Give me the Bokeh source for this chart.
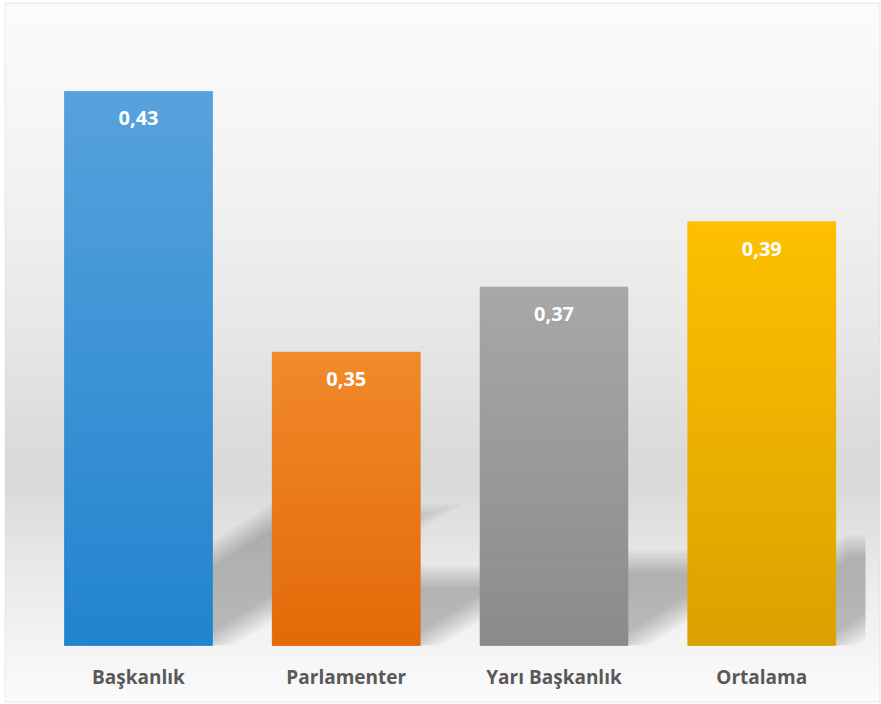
import numpy as np
from bokeh.plotting import figure
from bokeh.models import Range1d
from bokeh.core.properties import value
from bokeh.embed import file_html
from bokeh.resources import INLINE

# ---- data ----
categories = ["Başkanlık", "Parlamenter", "Yarı Başkanlık", "Ortalama"]
values = [0.43, 0.35, 0.37, 0.39]
value_labels = ["0,43", "0,35", "0,37", "0,39"]
top_colors = ["#57a2dc", "#f28a2c", "#a8a8a8", "#fec000"]
bottom_colors = ["#2184ce", "#e26a08", "#8b8b8b", "#daa200"]
axis_min = 0.26

# ---- geometry / styling (page pixels) ----
W, H = 881, 704
FR_L, FR_R, FR_T, FR_B = 5, 879, 3, 701   # chart-area box
PX_X = 207.75      # px per category slot
PX_Y = 3259.0      # px per value unit
BASE_PX = 645      # page y of the value axis minimum
X0_PX = 138        # page x of the first category centre
PLOT_RIGHT_PX = 865
BAR_W = 0.712


def px2x(px):
    return 0.5 + (px - X0_PX) / PX_X


def py2y(py):
    return axis_min + (BASE_PX - py) / PX_Y


x_start, x_end = px2x(FR_L), px2x(FR_R)
y_start, y_end = py2y(FR_B), py2y(FR_T)
x_clip = px2x(PLOT_RIGHT_PX)

xs = [i + 0.5 for i in range(len(categories))]


def hex2rgb(h):
    h = h.lstrip("#")
    return np.array([int(h[i:i + 2], 16) for i in (0, 2, 4)], dtype=float)


def rgb2hex(c):
    c = np.clip(np.round(c), 0, 255).astype(int)
    return "#%02x%02x%02x" % tuple(c)


def interp_color(stops, t):
    for (p0, c0), (p1, c1) in zip(stops[:-1], stops[1:]):
        if p0 <= t <= p1:
            f = 0 if p1 == p0 else (t - p0) / (p1 - p0)
            return rgb2hex(hex2rgb(c0) * (1 - f) + hex2rgb(c1) * f)
    return stops[-1][1] if t > stops[-1][0] else stops[0][1]


p = figure(width=W, height=H,
           x_range=Range1d(x_start, x_end), y_range=Range1d(y_start, y_end),
           output_backend="svg", toolbar_location=None,
           x_axis_location=None, y_axis_location=None,
           min_border_left=FR_L, min_border_right=W - FR_R,
           min_border_top=FR_T, min_border_bottom=H - FR_B)
p.grid.visible = False
p.outline_line_color = "#d9d9d9"
p.outline_line_width = 1.5
p.background_fill_color = "#fafafa"
p.border_fill_color = "white"

# ---- background vertical gradient (page px) ----
bg_stops = [(FR_T, "#fbfbfb"), (60, "#f9f9f9"), (200, "#f1f1f1"), (330, "#e7e7e7"),
            (455, "#dadada"), (485, "#dadada"), (565, "#e8e8e8"), (645, "#f4f4f4"),
            (FR_B, "#fbfbfb")]
NB = 175
edges = np.linspace(FR_T, FR_B, NB + 1)
bg_b, bg_t, bg_c = [], [], []
for k in range(NB):
    bg_t.append(py2y(edges[k]))
    bg_b.append(py2y(edges[k + 1]))
    bg_c.append(interp_color(bg_stops, 0.5 * (edges[k] + edges[k + 1])))
p.quad(left=x_start, right=x_end, bottom=bg_b, top=bg_t,
       fill_color=bg_c, line_color=bg_c, line_width=1)


# ---- perspective shadows (soft, layered) ----
def clip_poly(poly, xlim, keep_below):
    out = []
    n = len(poly)
    inside = (lambda q: q[0] <= xlim) if keep_below else (lambda q: q[0] >= xlim)
    for i in range(n):
        a, b = poly[i], poly[(i + 1) % n]
        ain, bin_ = inside(a), inside(b)
        if ain:
            out.append(a)
        if ain != bin_:
            t = (xlim - a[0]) / (b[0] - a[0])
            out.append((xlim, a[1] + t * (b[1] - a[1])))
    return out


SLOPE = 0.62
RATIO = 0.235
layers = np.linspace(11, -11, 9)
for d in layers:
    sx, sy = [], []
    for xc, v in zip(xs, values):
        h_px = (v - axis_min) * PX_Y
        hs = RATIO * h_px + d
        s = d * 1.9
        Lp = (xc - BAR_W / 2) * PX_X - s
        Rp = (xc + BAR_W / 2) * PX_X + s
        poly_px = [(Lp, 0), (Rp, 0), (Rp + hs / SLOPE, hs), (Lp + hs / SLOPE, hs)]
        poly = [(px / PX_X, axis_min + py / PX_Y) for px, py in poly_px]
        poly = clip_poly(poly, x_clip, True)
        poly = clip_poly(poly, xc - BAR_W / 2, False)
        sx.append([q[0] for q in poly])
        sy.append([q[1] for q in poly])
    p.patches(xs=sx, ys=sy, fill_color="black", fill_alpha=0.026, line_color=None)

# ---- bars ----
mid_colors = [interp_color([(0, b), (1, t)], 0.5) for b, t in zip(bottom_colors, top_colors)]
p.vbar(x=xs, top=values, bottom=axis_min, width=BAR_W, fill_color=mid_colors, line_color=None)

NS = 60
gx, gb, gt, gc = [], [], [], []
for xc, v, cb, ct in zip(xs, values, bottom_colors, top_colors):
    for k in range(NS):
        gx.append(xc)
        gb.append(axis_min + (v - axis_min) * k / NS)
        gt.append(axis_min + (v - axis_min) * (k + 1) / NS)
        gc.append(interp_color([(0, cb), (1, ct)], (k + 0.5) / NS))
p.vbar(x=gx, bottom=gb, top=gt, width=BAR_W, fill_color=gc, line_color=gc, line_width=0.6)

# ---- value labels ----
p.text(x=xs, y=values, text=value_labels, text_color="white",
       text_font=value("Open Sans"), text_font_style="bold", text_font_size="20px",
       text_align="center", text_baseline="middle", y_offset=27)

# ---- category labels ----
p.text(x=xs, y=[axis_min] * len(xs), text=categories, text_color="#595959",
       text_font=value("Open Sans"), text_font_style="bold", text_font_size="19px",
       text_align="center", text_baseline="middle", y_offset=31)

open("out.html", "w").write(file_html(p, INLINE))
